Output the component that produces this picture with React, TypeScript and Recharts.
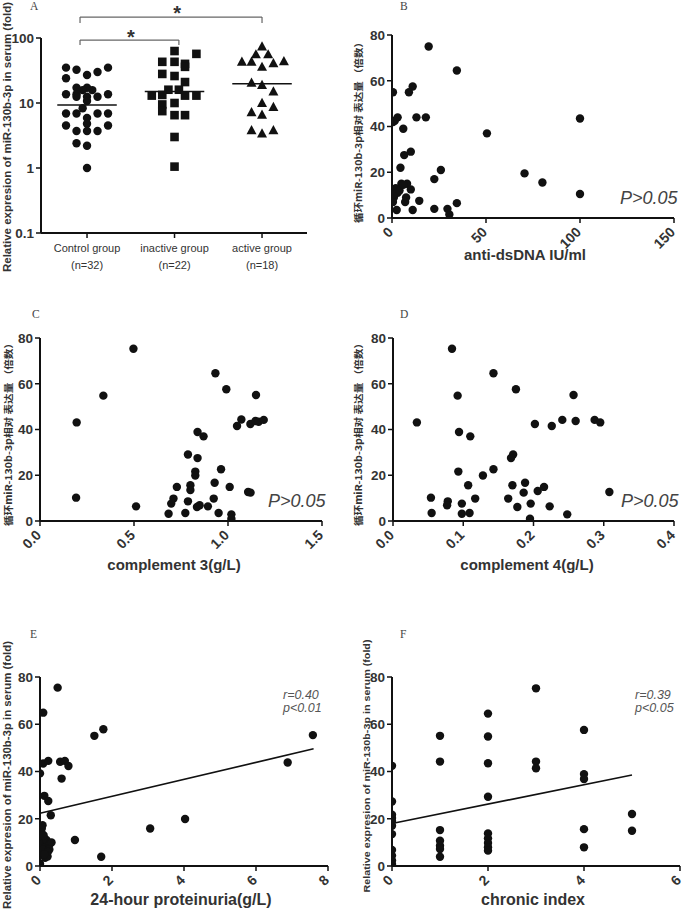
import React from "react";
import { ScatterChart, Scatter, XAxis, YAxis, ReferenceLine, ReferenceDot } from "recharts";

// ---- data ----
// panel A: [offset from group centre, fold]
const controlGroup = [
  [-0.24, 35], [0.24, 35], [-0.12, 32.5], [0.12, 30], [0, 27], [-0.24, 24],
  [-0.12, 17.2], [0, 17.2], [-0.05, 15.8], [0.06, 15.8],
  [-0.24, 13.6], [-0.12, 13.6], [0.24, 13.6], [-0.12, 12.5], [0, 12.5], [0.12, 12.5],
  [0, 10.7], [-0.05, 8.3], [-0.24, 6.9], [-0.12, 6.9], [0.12, 6.9], [0.24, 6.9],
  [0, 5.9], [-0.24, 4.5], [0.24, 4.5], [0, 4.8], [-0.12, 3.7], [0, 3.7], [0.12, 3.7],
  [-0.12, 2.4], [0, 2.2], [0, 1.0],
];
const inactiveGroup = [
  [0, 63], [0.25, 57], [-0.14, 43], [0, 43], [0.12, 40], [0.12, 36], [-0.14, 28], [0, 26],
  [0.12, 21], [-0.07, 16], [0.05, 16], [-0.26, 13], [-0.14, 13.3], [0.12, 13], [0.25, 13],
  [-0.14, 9.5], [0, 10], [-0.14, 7.5], [0, 6.5], [0.12, 6.5], [0, 3], [0, 1.05],
];
const activeGroup = [
  [0, 74], [-0.07, 56], [0.07, 56], [-0.23, 43], [-0.12, 43], [0.13, 41], [0.25, 44], [0, 36],
  [-0.12, 20.5], [0, 19], [0.13, 15], [0, 10], [0.13, 8.7], [-0.12, 7.2], [0, 6.6],
  [-0.12, 3.8], [0, 3.4], [0.13, 3.8],
];
const groupNames = ["Control group", "inactive group", "active group"];
const groupN = ["(n=32)", "(n=22)", "(n=18)"];
const groupMedians = [9.3, 15.0, 19.8];
const logTicks = [0.1, 1, 10, 100];

// significance brackets [xLeft, xRight, yTop, yFoot], star [x, y]
const brackets = [
  [0.92, 3.0, 210, 170],
  [0.92, 2.05, 93, 78],
];
const stars = [
  [2.03, 245],
  [1.5, 105],
];

// panel B: anti-dsDNA vs expression
const dsDNA = [
  [19.5, 75], [34.5, 64.5], [11, 57.5], [9, 55], [0.5, 55], [3, 44], [1.5, 42.5], [0.5, 42],
  [13, 44], [18, 44], [100, 43.5], [6, 39], [50.5, 37], [10, 29], [6.5, 27.5], [4.5, 22],
  [26, 21], [70.5, 19.5], [22.5, 17], [80, 15.5], [100, 10.5], [5, 15], [8, 15], [2, 13],
  [10, 12.5], [3, 11], [1, 9], [7.5, 9], [0.5, 7], [7, 7], [14.5, 7.5], [2.5, 3.5],
  [11, 3.5], [22.5, 4], [29.5, 4], [30.5, 1.5], [34.5, 6.5], [1, 10.5], [4, 12], [6, 14.5],
];
// panel C: complement 3
const c3 = [
  [0.497, 75.3], [0.337, 54.8], [0.195, 43.1], [0.192, 10.2], [0.511, 6.4], [0.933, 64.6],
  [0.991, 57.6], [1.149, 55.1], [1.071, 44.4], [1.048, 41.5], [1.119, 42.4], [1.146, 43.7],
  [1.163, 43.4], [1.19, 44.2], [0.838, 38.9], [0.87, 37.0], [0.787, 29.1], [0.838, 27.5],
  [0.826, 21.6], [0.826, 19.9], [0.963, 22.6], [0.728, 14.9], [0.8, 15.6], [0.8, 13.5],
  [0.929, 16.7], [1.009, 14.9], [1.107, 12.7], [1.12, 12.4], [0.71, 9.8], [0.698, 7.6],
  [0.787, 8.6], [0.924, 9.8], [0.849, 6.9], [0.835, 6.1], [0.893, 6.4], [0.684, 3.2],
  [0.773, 3.5], [0.95, 3.5], [1.018, 2.9], [1.018, 1.0],
];
// panel D: complement 4
const c4 = [
  [0.084, 75.3], [0.143, 64.6], [0.092, 54.8], [0.175, 57.6], [0.257, 55.1], [0.034, 43.1],
  [0.094, 38.9], [0.11, 37.0], [0.202, 42.4], [0.226, 41.5], [0.241, 44.2], [0.26, 43.7],
  [0.287, 44.2], [0.295, 43.1], [0.171, 29.1], [0.168, 27.5], [0.093, 21.6], [0.143, 22.6],
  [0.128, 19.9], [0.107, 15.6], [0.17, 15.6], [0.188, 16.7], [0.186, 12.4], [0.206, 13.1],
  [0.215, 14.9], [0.308, 12.7], [0.054, 10.2], [0.117, 9.8], [0.164, 9.8], [0.078, 8.6],
  [0.077, 6.9], [0.098, 7.6], [0.196, 7.6], [0.177, 6.1], [0.223, 6.4], [0.055, 3.5],
  [0.098, 3.2], [0.109, 3.5], [0.248, 2.9], [0.195, 1.0],
];
// panel E: 24-hour proteinuria
const proteinuria = [
  [0.49, 75.5], [0.09, 64.9], [1.51, 55.1], [1.76, 57.9], [7.58, 55.4], [6.88, 43.8],
  [0, 39.2], [0.09, 43.4], [0.23, 44.5], [0.56, 44.1], [0.69, 44.5], [0.79, 42.3], [0.6, 37],
  [0.12, 29.7], [0.23, 27.5], [0.3, 21.5], [0.07, 17.3], [0.05, 15.9], [4.03, 19.9],
  [3.06, 15.9], [0.97, 11], [1.7, 3.9], [0.02, 12.5], [0.07, 9.5], [0.14, 8], [0.18, 11],
  [0.28, 9.5], [0.32, 10], [0.05, 6], [0.14, 3.5], [0.21, 4], [0, 1], [0.09, 7], [0.26, 7],
  [0.04, 14], [0.1, 13], [0.22, 6], [0.12, 5],
];
const proteinuriaFit = [{ x: 0, y: 22.3 }, { x: 7.6, y: 49.6 }];
// panel F: chronic index
const chronic = [
  [0, 42.4], [0, 27.3], [0, 21.7], [0, 20.3], [0, 19], [0, 17], [0, 13.5], [0, 6.8], [0, 4.4],
  [0, 2.3], [0, 0.8],
  [1, 55.1], [1, 44.2], [1, 15.2], [1, 10.7], [1, 8.6], [1, 7.2], [1, 3.9],
  [2, 64.5], [2, 54.8], [2, 43.5], [2, 29.3], [2, 13.8], [2, 11.7], [2, 9.7], [2, 7.9], [2, 6.5],
  [3, 75.2], [3, 44.2], [3, 41.4],
  [4, 57.6], [4, 38.9], [4, 36.8], [4, 15.6], [4, 7.9],
  [5, 22], [5, 14.9],
];
const chronicFit = [{ x: 0, y: 18 }, { x: 5, y: 38.5 }];

const linTicks = [0, 20, 40, 60, 80];

// ---- styling ----
const SANS = "'Liberation Sans', Arial, sans-serif";
const INK = "#111";
const TXT = "#333";
const ML = 2, YW = 36, MR = 12, MB = 4;

const toPts = (arr: number[][]) => arr.map(([x, y]) => ({ x, y }));
const groupPts = (arr: number[][], g: number) => arr.map(([dx, y]) => ({ x: g + dx, y }));

const Dot = (p: any) => <circle cx={p.cx} cy={p.cy} r={4.2} fill={INK} />;
const Sq = (p: any) => <rect x={p.cx - 4.3} y={p.cy - 4.3} width={8.6} height={8.6} fill={INK} />;
const Tri = (p: any) => (
  <polygon points={`${p.cx},${p.cy - 5.2} ${p.cx - 5},${p.cy + 4} ${p.cx + 5},${p.cy + 4}`} fill={INK} />
);

const rotTick = (fmt: (v: number) => string) => (p: any) => (
  <g transform={`translate(${p.x + 2},${p.y + 8})`}>
    <text textAnchor="end" transform="rotate(-45)" fontSize={14} fontWeight="bold" fill={TXT} fontFamily={SANS}>
      {fmt(p.payload.value)}
    </text>
  </g>
);

const GroupTick = (p: any) => {
  const i = p.payload.value - 1;
  return (
    <g>
      <text x={p.x} y={p.y + 12} textAnchor="middle" fontSize={11} fill={TXT} fontFamily={SANS}>{groupNames[i]}</text>
      <text x={p.x} y={p.y + 29} textAnchor="middle" fontSize={11} fill={TXT} fontFamily={SANS}>{groupN[i]}</text>
    </g>
  );
};

const yTickStyle = { fill: TXT, fontSize: 13.5, fontWeight: "bold", fontFamily: SANS };
const axisStyle = { stroke: INK, strokeWidth: 2 };
const tickLineStyle = { stroke: INK, strokeWidth: 1.5 };

type Box = { x0: number; x1: number; y0: number; y1: number };

function ScatterPanel({ box, xDomain, xTicks, fmt, points, fit }: {
  box: Box; xDomain: number[]; xTicks: number[]; fmt: (v: number) => string; points: number[][]; fit?: { x: number; y: number }[];
}) {
  const MT = 15, XH = 50;
  const w = ML + YW + (box.x1 - box.x0) + MR;
  const h = MT + (box.y1 - box.y0) + XH + MB;
  return (
    <div style={{ position: "absolute", left: box.x0 - YW - ML, top: box.y0 - MT }}>
      <ScatterChart width={w} height={h} margin={{ top: MT, right: MR, bottom: MB, left: ML }}>
        <XAxis type="number" dataKey="x" domain={xDomain} ticks={xTicks} interval={0} allowDataOverflow
          height={XH} tick={rotTick(fmt)} tickSize={5} axisLine={axisStyle} tickLine={tickLineStyle} />
        <YAxis type="number" dataKey="y" domain={[0, 80]} ticks={linTicks} interval={0} allowDataOverflow
          width={YW} tick={yTickStyle} tickSize={5} axisLine={axisStyle} tickLine={tickLineStyle} />
        <Scatter data={toPts(points)} shape={Dot} isAnimationActive={false} />
        {fit && <ReferenceLine segment={fit} stroke={INK} strokeWidth={1.6} ifOverflow="visible" />}
      </ScatterChart>
    </div>
  );
}

function PanelA() {
  const box = { x0: 41, x1: 307, y0: 38, y1: 233 };
  const MT = 38, XH = 45;
  const w = ML + YW + (box.x1 - box.x0) + MR;
  const h = MT + (box.y1 - box.y0) + XH + MB;
  const grey = { stroke: "#666", strokeWidth: 1.2 };
  return (
    <div style={{ position: "absolute", left: box.x0 - YW - ML, top: box.y0 - MT }}>
      <ScatterChart width={w} height={h} margin={{ top: MT, right: MR, bottom: MB, left: ML }}>
        <XAxis type="number" dataKey="x" domain={[0.474, 3.514]} ticks={[1, 2, 3]} interval={0} allowDataOverflow
          height={XH} tick={GroupTick} tickSize={5} axisLine={axisStyle} tickLine={tickLineStyle} />
        <YAxis type="number" dataKey="y" scale="log" domain={[0.1, 100]} ticks={logTicks} interval={0} allowDataOverflow
          width={YW} tick={yTickStyle} tickFormatter={(v: number) => String(v)} tickSize={5} axisLine={axisStyle} tickLine={tickLineStyle} />
        <Scatter data={groupPts(controlGroup, 1)} shape={Dot} isAnimationActive={false} />
        <Scatter data={groupPts(inactiveGroup, 2)} shape={Sq} isAnimationActive={false} />
        <Scatter data={groupPts(activeGroup, 3)} shape={Tri} isAnimationActive={false} />
        {groupMedians.map((m, i) => (
          <ReferenceLine key={"m" + i} segment={[{ x: i + 1 - 0.34, y: m }, { x: i + 1 + 0.34, y: m }]} stroke={INK} strokeWidth={1.6} ifOverflow="visible" />
        ))}
        {brackets.flatMap(([a, b, top, foot], i) => [
          <ReferenceLine key={"bh" + i} segment={[{ x: a, y: top }, { x: b, y: top }]} {...grey} ifOverflow="visible" />,
          <ReferenceLine key={"bl" + i} segment={[{ x: a, y: top }, { x: a, y: foot }]} {...grey} ifOverflow="visible" />,
          <ReferenceLine key={"br" + i} segment={[{ x: b, y: top }, { x: b, y: foot }]} {...grey} ifOverflow="visible" />,
        ])}
        {stars.map(([x, y], i) => (
          <ReferenceDot key={"s" + i} x={x} y={y} r={0} ifOverflow="visible"
            label={{ value: "*", position: "center", fontSize: 20, fontWeight: "bold", fill: TXT, fontFamily: SANS }} />
        ))}
      </ScatterChart>
    </div>
  );
}

const EN_LABEL = "Relative expresion of miR-130b-3p  in serum (fold)";
const CN_LABEL = "循环miR-130b-3p相对 表达量  （倍数）";

function VLabel({ x, y, len, text, size, cjk }: { x: number; y: number; len: number; text: string; size: number; cjk?: boolean }) {
  return (
    <text x={x} y={y} transform={`rotate(-90, ${x}, ${y})`} textAnchor="middle" dominantBaseline="central"
      fontSize={size} fontWeight="bold" fill={TXT} textLength={len} lengthAdjust="spacingAndGlyphs"
      fontFamily={cjk ? "'Noto Sans CJK SC', sans-serif" : SANS}>{text}</text>
  );
}

export default function App() {
  const fmtInt = (v: number) => String(v);
  const fmt1 = (v: number) => v.toFixed(1);
  return (
    <div style={{ position: "absolute", left: 0, top: 0, width: 685, height: 911, background: "#fff", overflow: "hidden" }}>
      <PanelA />
      <ScatterPanel box={{ x0: 392, x1: 674, y0: 35, y1: 218 }} xDomain={[0, 150]} xTicks={[0, 50, 100, 150]} fmt={fmtInt} points={dsDNA} />
      <ScatterPanel box={{ x0: 40, x1: 322, y0: 338, y1: 521 }} xDomain={[0, 1.5]} xTicks={[0, 0.5, 1, 1.5]} fmt={fmt1} points={c3} />
      <ScatterPanel box={{ x0: 393, x1: 674, y0: 338, y1: 521 }} xDomain={[0, 0.4]} xTicks={[0, 0.1, 0.2, 0.3, 0.4]} fmt={fmt1} points={c4} />
      <ScatterPanel box={{ x0: 40, x1: 328, y0: 677, y1: 866 }} xDomain={[0, 8]} xTicks={[0, 2, 4, 6, 8]} fmt={fmtInt} points={proteinuria} fit={proteinuriaFit} />
      <ScatterPanel box={{ x0: 392, x1: 680, y0: 677, y1: 866 }} xDomain={[0, 6]} xTicks={[0, 2, 4, 6]} fmt={fmtInt} points={chronic} fit={chronicFit} />

      <svg width={685} height={911} style={{ position: "absolute", left: 0, top: 0, pointerEvents: "none" }}>
        <g fontFamily="'Liberation Serif', serif" fontSize={11.5} fill="#444">
          <text x={30} y={10}>A</text>
          <text x={400} y={10}>B</text>
          <text x={32} y={318}>C</text>
          <text x={400} y={318}>D</text>
          <text x={30} y={638}>E</text>
          <text x={400} y={638}>F</text>
        </g>
        <VLabel x={7} y={137} len={270} text={EN_LABEL} size={10} />
        <VLabel x={7} y={775} len={268} text={EN_LABEL} size={10} />
        <VLabel x={366} y={766} len={253} text={EN_LABEL} size={9.5} />
        <VLabel x={358} y={130} len={186} text={CN_LABEL} size={9.5} cjk />
        <VLabel x={8} y={432} len={188} text={CN_LABEL} size={9.5} cjk />
        <VLabel x={358} y={432} len={188} text={CN_LABEL} size={9.5} cjk />

        <g fontFamily={SANS} fontWeight="bold" fill={TXT} textAnchor="middle">
          <text x={525} y={260} fontSize={15}>anti-dsDNA IU/ml</text>
          <text x={174} y={570} fontSize={15}>complement 3(g/L)</text>
          <text x={527} y={570} fontSize={15}>complement 4(g/L)</text>
          <text x={181} y={905} fontSize={16}>24-hour proteinuria(g/L)</text>
          <text x={533} y={905} fontSize={16}>chronic index</text>
        </g>
        <g fontFamily={SANS} fontStyle="italic" fill="#444" fontSize={18}>
          <text x={620} y={204}>P&gt;0.05</text>
          <text x={268} y={507}>P&gt;0.05</text>
          <text x={621} y={507}>P&gt;0.05</text>
        </g>
        <g fontFamily={SANS} fontStyle="italic" fill="#555" fontSize={12.5}>
          <text x={283} y={699}>r=0.40</text>
          <text x={283} y={712}>p&lt;0.01</text>
          <text x={635} y={699}>r=0.39</text>
          <text x={635} y={712}>p&lt;0.05</text>
        </g>
      </svg>
    </div>
  );
}
